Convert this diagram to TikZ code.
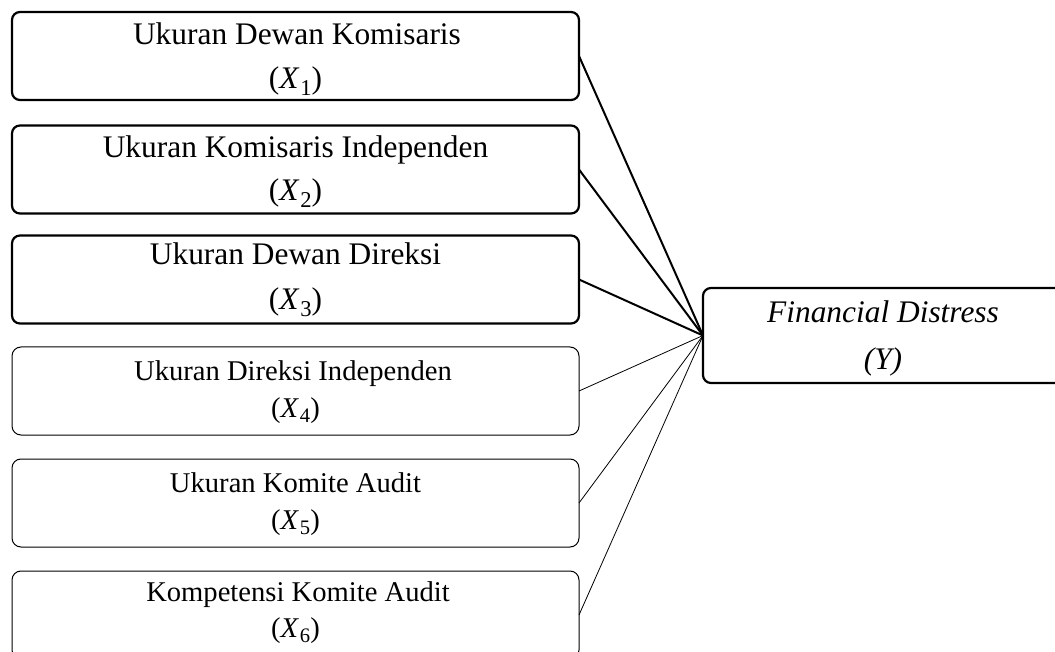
\documentclass[tikz,border=0pt]{standalone}
\usepackage{graphicx}
\usepackage{fontspec}
\setmainfont{Liberation Serif}
\newcommand\varx[1]{(\textit{X}\kern0.03em\raisebox{-0.2em}{\scalebox{0.72}{#1}})}
\begin{document}
\begin{tikzpicture}[x=1pt,y=-1pt,
  boxthick/.style={draw=black, line width=2.2pt, rounded corners=8pt, inner sep=0pt, outer sep=0pt, minimum width=567pt, minimum height=88pt},
  boxthin/.style={draw=black, line width=1pt, rounded corners=9pt, inner sep=0pt, outer sep=0pt, minimum width=567pt, minimum height=88pt},
  bigtxt/.style={font=\fontsize{31.4}{38}\selectfont, inner sep=0pt, anchor=base},
  smalltxt/.style={font=\fontsize{28.6}{34}\selectfont, inner sep=0pt, anchor=base},
  linkthick/.style={draw=black, line width=2pt},
  linkthin/.style={draw=black, line width=0.8pt}]
\useasboundingbox (0,0) rectangle (1055,652);
\clip (0,0) rectangle (1055,652);

% left boxes
\node[boxthick] (b1) at (295.5,56) {};
\node[boxthick] (b2) at (295.5,169.5) {};
\node[boxthick] (b3) at (295.5,279.5) {};
\node[boxthin] (b4) at (295.5,391) {};
\node[boxthin] (b5) at (295.5,503) {};
\node[boxthin] (b6) at (295.5,615) {};

% right box
\node[boxthick, minimum width=360pt, minimum height=95pt] (y) at (883,335.5) {};

% texts
\node[bigtxt] (t1a) at (297,45) {Ukuran Dewan Komisaris};
\node[bigtxt] (t1b) at (295.5,89) {\varx{1}};
\node[bigtxt] (t2a) at (295.5,158) {Ukuran Komisaris Independen};
\node[bigtxt] (t2b) at (295.5,201) {\varx{2}};
\node[bigtxt] (t3a) at (295.5,265) {Ukuran Dewan Direksi};
\node[bigtxt] (t3b) at (295.5,310) {\varx{3}};
\node[smalltxt] (t4a) at (293,380) {Ukuran Direksi Independen};
\node[smalltxt] (t4b) at (295.5,417) {\varx{4}};
\node[smalltxt] (t5a) at (295.5,492) {Ukuran Komite Audit};
\node[smalltxt] (t5b) at (295.5,529) {\varx{5}};
\node[smalltxt] (t6a) at (298,601) {Kompetensi Komite Audit};
\node[smalltxt] (t6b) at (295.5,637) {\varx{6}};
\node[bigtxt] (ya) at (883,322.7) {\textit{Financial Distress}};
\node[bigtxt] (yb) at (883,370) {\textit{(Y)}};

% connectors
\draw[linkthick] (b1.east) -- (y.west);
\draw[linkthick] (b2.east) -- (y.west);
\draw[linkthick] (b3.east) -- (y.west);
\draw[linkthin] (b4.east) -- (y.west);
\draw[linkthin] (b5.east) -- (y.west);
\draw[linkthin] (b6.east) -- (y.west);
\end{tikzpicture}
\end{document}
